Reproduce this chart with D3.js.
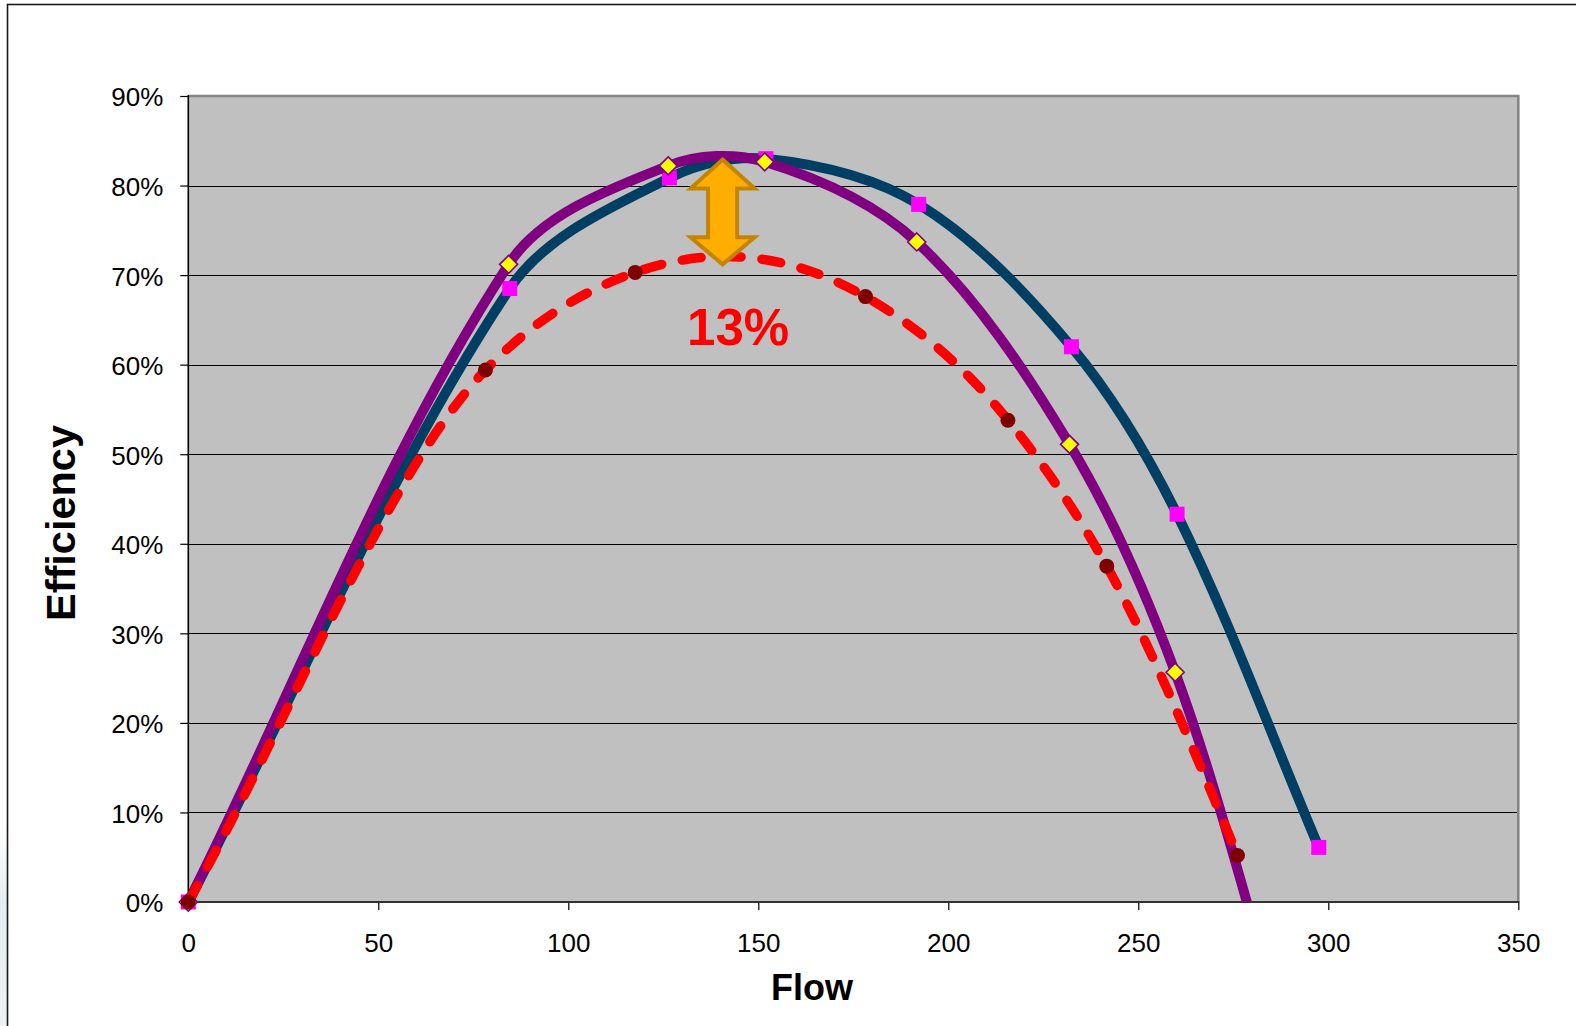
<!DOCTYPE html>
<html>
<head>
<meta charset="utf-8">
<script src="https://cdn.jsdelivr.net/npm/d3@7"></script>
<style>
  body { margin: 0; background: #fff; }
  svg { display: block; }
  text { font-family: "Liberation Sans", Arial, sans-serif; }
</style>
</head>
<body>
<svg id="chart" width="1576" height="1026"></svg>
<script>
// Axis ticks
const flowTicks = [0, 50, 100, 150, 200, 250, 300, 350];
const effTicks = [0, 10, 20, 30, 40, 50, 60, 70, 80, 90];

// Pump curve A (navy line, magenta squares)
const flowA = [0, 84.6, 126.6, 152.0, 192.2, 232.4, 260.2, 297.5];
const effA  = [0, 68.5, 80.85, 83.0, 77.9, 62.0, 43.3, 6.1];

// Pump curve B (purple line, yellow diamonds); last point lies below the axis
const flowB = [0, 84.3, 126.3, 151.7, 191.7, 231.9, 259.7, 287.5];
const effB  = [0, 71.2, 82.2, 82.65, 73.7, 51.1, 25.65, -13];

// Pump curve C (red dashed line, dark red dots)
const flowC = [0, 78.2, 117.6, 178.2, 215.7, 241.7, 276.1];
const effC  = [0, 59.4, 70.3, 67.6, 53.8, 37.5, 5.2];

// Efficiency gap annotation
const gapFlow = 140.6;
const gapTop = 82.9;
const gapBottom = 71.2;
const gapLabel = "13%";
const gapLabelFlow = 144.7;
const gapLabelEff = 62.2;

const svg = d3.select("#chart");
const W = 1576, H = 1026;
const plot = { left: 188.3, right: 1518.3, top: 96, bottom: 902 };

const x = d3.scaleLinear().domain([0, 350]).range([plot.left, plot.right]);
const y = d3.scaleLinear().domain([0, 90]).range([plot.bottom, plot.top]);

svg.append("rect").attr("width", W).attr("height", H).attr("fill", "#fff");

// faint texture at lower left edge
const grad = svg.append("defs").append("linearGradient")
  .attr("id", "edgeHaze").attr("x1", 0).attr("x2", 0).attr("y1", 0).attr("y2", 1);
grad.append("stop").attr("offset", "0%").attr("stop-color", "#eef2f5").attr("stop-opacity", 0);
grad.append("stop").attr("offset", "40%").attr("stop-color", "#e6ebef").attr("stop-opacity", 1);
grad.append("stop").attr("offset", "100%").attr("stop-color", "#eaeff2").attr("stop-opacity", 0.8);
svg.append("rect").attr("x", 0).attr("y", 820).attr("width", 7).attr("height", 206)
  .attr("fill", "url(#edgeHaze)");

// chart frame
svg.append("rect").attr("x", 7.5).attr("y", 4.5).attr("width", 1620).attr("height", 1100)
  .attr("fill", "none").attr("stroke", "#1a1a1a").attr("stroke-width", 1.6);

// plot area
svg.append("rect")
  .attr("x", plot.left).attr("y", plot.top)
  .attr("width", plot.right - plot.left).attr("height", plot.bottom - plot.top)
  .attr("fill", "#c0c0c0");

// gridlines
svg.append("g").selectAll("line")
  .data(effTicks.filter(d => d > 0 && d < 90))
  .join("line")
  .attr("x1", plot.left).attr("x2", plot.right)
  .attr("y1", d => Math.round(y(d)) + 0.5).attr("y2", d => Math.round(y(d)) + 0.5)
  .attr("stroke", "#000").attr("stroke-width", 1.2);

// plot border: grey top/right
svg.append("path")
  .attr("d", `M${plot.left},${plot.top}H${plot.right}V${plot.bottom}`)
  .attr("fill", "none").attr("stroke", "#858585").attr("stroke-width", 2.6);

// axes
const yAxis = d3.axisLeft(y).tickValues(effTicks).tickFormat(d => d + "%")
  .tickSize(8).tickPadding(17);
const gy = svg.append("g").attr("transform", `translate(${plot.left},0)`).call(yAxis);
gy.select(".domain").remove();
gy.selectAll(".tick line").attr("stroke", "#000").attr("stroke-width", 1.2);
gy.selectAll(".tick text").attr("font-size", 26).attr("fill", "#000")
  .attr("font-family", "'Liberation Sans', Arial, sans-serif").attr("dy", "0.38em");

const xAxis = d3.axisBottom(x).tickValues(flowTicks).tickFormat(d3.format("d"))
  .tickSize(8).tickPadding(23.5);
const gx = svg.append("g").attr("transform", `translate(0,${plot.bottom})`).call(xAxis);
gx.select(".domain").remove();
gx.selectAll(".tick line").attr("stroke", "#000").attr("stroke-width", 1.2);
gx.selectAll(".tick text").attr("font-size", 26).attr("fill", "#000")
  .attr("font-family", "'Liberation Sans', Arial, sans-serif");

svg.append("line").attr("x1", plot.left).attr("x2", plot.left)
  .attr("y1", plot.top - 1).attr("y2", plot.bottom + 1)
  .attr("stroke", "#000").attr("stroke-width", 1.6);
svg.append("line").attr("x1", plot.left).attr("x2", plot.right + 1)
  .attr("y1", plot.bottom).attr("y2", plot.bottom)
  .attr("stroke", "#333").attr("stroke-width", 2.2);

// axis titles
svg.append("text")
  .attr("x", 812).attr("y", 1000)
  .attr("text-anchor", "middle")
  .attr("font-size", 36).attr("font-weight", "bold").attr("fill", "#000")
  .text("Flow");
svg.append("text")
  .attr("transform", "translate(75,523) rotate(-90)")
  .attr("text-anchor", "middle")
  .attr("font-size", 41.5).attr("font-weight", "bold").attr("fill", "#000")
  .text("Efficiency");

// clip lines to the plot area
svg.append("clipPath").attr("id", "plotClip").append("rect")
  .attr("x", plot.left).attr("y", plot.top)
  .attr("width", plot.right - plot.left).attr("height", plot.bottom - plot.top);

// Smoothed line through points: cubic Bezier segments whose control handles
// follow the neighbouring chord, scaled by relative segment length.
function chordSpline(p) {
  const path = d3.path();
  const dist = (a, b) => Math.hypot(b[0] - a[0], b[1] - a[1]);
  path.moveTo(p[0][0], p[0][1]);
  for (let i = 0; i < p.length - 1; i++) {
    const p0 = p[Math.max(i - 1, 0)], p1 = p[i], p2 = p[i + 1], p3 = p[Math.min(i + 2, p.length - 1)];
    const d01 = dist(p0, p1), d12 = dist(p1, p2), d23 = dist(p2, p3);
    const f1 = d12 / (d01 + d12) / 3, f2 = d12 / (d12 + d23) / 3;
    path.bezierCurveTo(
      p1[0] + (p2[0] - p0[0]) * f1, p1[1] + (p2[1] - p0[1]) * f1,
      p2[0] - (p3[0] - p1[0]) * f2, p2[1] - (p3[1] - p1[1]) * f2,
      p2[0], p2[1]);
  }
  return path.toString();
}

// Smoothed y(x) line: Hermite segments with three-point (parabolic) slopes;
// the first segment starts along its own chord.
function parabolicSpline(p) {
  const n = p.length, h = [], s = [], m = new Array(n);
  for (let i = 0; i < n - 1; i++) {
    h[i] = p[i + 1][0] - p[i][0];
    s[i] = (p[i + 1][1] - p[i][1]) / h[i];
  }
  for (let i = 1; i < n - 1; i++) m[i] = (s[i - 1] * h[i] + s[i] * h[i - 1]) / (h[i - 1] + h[i]);
  m[0] = s[0];
  m[n - 1] = (3 * s[n - 2] - m[n - 2]) / 2;
  const path = d3.path();
  path.moveTo(p[0][0], p[0][1]);
  for (let i = 0; i < n - 1; i++) {
    const dx = h[i] / 3;
    path.bezierCurveTo(p[i][0] + dx, p[i][1] + m[i] * dx,
      p[i + 1][0] - dx, p[i + 1][1] - m[i + 1] * dx, p[i + 1][0], p[i + 1][1]);
  }
  return path.toString();
}

const pts = (fx, ey) => fx.map((f, i) => [f, ey[i]]);
const toPx = arr => arr.map(d => [x(d[0]), y(d[1])]);
const shown = arr => arr.filter(d => d[1] >= 0);

const series = svg.append("g");

// curve A
const ptsA = pts(flowA, effA);
series.append("path").attr("d", chordSpline(toPx(ptsA))).attr("clip-path", "url(#plotClip)")
  .attr("fill", "none").attr("stroke", "#003f63").attr("stroke-width", 10)
  .attr("stroke-linejoin", "round");
series.append("g").selectAll("rect").data(shown(ptsA)).join("rect")
  .attr("x", d => x(d[0]) - 7.5).attr("y", d => y(d[1]) - 7.5)
  .attr("width", 15).attr("height", 15).attr("fill", "#ff00ff");

// curve B
const ptsB = pts(flowB, effB);
series.append("path").attr("d", chordSpline(toPx(ptsB))).attr("clip-path", "url(#plotClip)")
  .attr("fill", "none").attr("stroke", "#800080").attr("stroke-width", 10)
  .attr("stroke-linejoin", "round");
series.append("g").selectAll("path").data(shown(ptsB)).join("path")
  .attr("d", d => {
    const cx = x(d[0]), cy = y(d[1]), r = 9;
    return `M${cx},${cy - r}L${cx + r},${cy}L${cx},${cy + r}L${cx - r},${cy}Z`;
  })
  .attr("fill", "#ffff00").attr("stroke", "#800080").attr("stroke-width", 1.6);

// curve C
const ptsC = pts(flowC, effC);
series.append("path").attr("d", parabolicSpline(toPx(ptsC))).attr("clip-path", "url(#plotClip)")
  .attr("fill", "none").attr("stroke", "#ff0000").attr("stroke-width", 9.5)
  .attr("stroke-dasharray", "19,21").attr("stroke-linecap", "round");
series.append("g").selectAll("circle").data(shown(ptsC)).join("circle")
  .attr("cx", d => x(d[0])).attr("cy", d => y(d[1])).attr("r", 7.5)
  .attr("fill", "#7f0000");

// double-headed arrow showing the efficiency gap
const ax = x(gapFlow), at = y(gapTop), ab = y(gapBottom);
const hw = 32, sw = 14.5, hhTop = 29, hhBot = 27;
const arrow = [
  [ax, at], [ax + hw, at + hhTop], [ax + sw, at + hhTop], [ax + sw, ab - hhBot],
  [ax + hw, ab - hhBot], [ax, ab], [ax - hw, ab - hhBot], [ax - sw, ab - hhBot],
  [ax - sw, at + hhTop], [ax - hw, at + hhTop]
];
svg.append("path")
  .attr("d", "M" + arrow.map(p => p.join(",")).join("L") + "Z")
  .attr("fill", "#ffae00").attr("stroke", "#c38500").attr("stroke-width", 4)
  .attr("stroke-linejoin", "miter");

svg.append("text")
  .attr("x", x(gapLabelFlow)).attr("y", y(gapLabelEff))
  .attr("text-anchor", "middle")
  .attr("font-size", 51).attr("font-weight", "bold").attr("fill", "#ff0000")
  .text(gapLabel);
</script>
</body>
</html>
